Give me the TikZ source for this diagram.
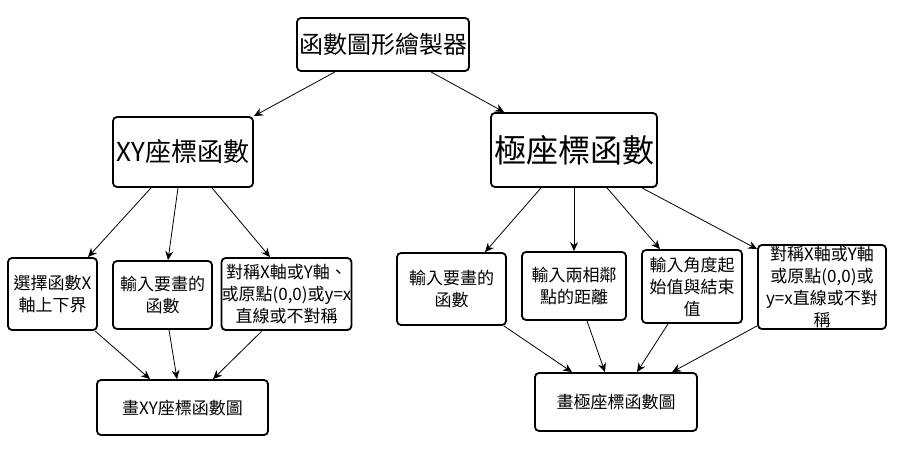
\documentclass[tikz,border=0pt]{standalone}
\usepackage{fontspec}
\setmainfont{Noto Sans CJK TC}
\usetikzlibrary{arrows.meta}
\tikzset{
  box/.style={draw=black, line width=1.8pt, rounded corners=4pt, fill=white,
    inner sep=0pt, align=center, anchor=center},
  conn/.style={draw=black, line width=0.8pt, -{Stealth[length=9pt,width=8pt]}},
  leaf/.style={box, font=\fontsize{17}{22}\selectfont},
}
\begin{document}
\begin{tikzpicture}[x=1pt,y=-1pt]
\useasboundingbox (0,0) rectangle (899,449);
\node[box, minimum width=172pt, minimum height=53pt, font=\fontsize{24}{28}\selectfont] (top) at (383,44.5) {函數圖形繪製器};
\node[box, minimum width=140pt, minimum height=70pt, font=\fontsize{26}{30}\selectfont] (xy) at (183,152) {XY座標函數};
\node[box, minimum width=166pt, minimum height=74pt, font=\fontsize{32}{36}\selectfont] (polar) at (574,150) {極座標函數};
\node[leaf, minimum width=89pt, minimum height=72pt] (b1) at (52.5,294) {選擇函數X\\軸上下界};
\node[leaf, minimum width=99pt, minimum height=68pt] (b2) at (162.5,295) {輸入要畫的\\函數};
\node[leaf, minimum width=125pt, minimum height=72pt] (b3) at (286.5,294) {對稱X軸或Y軸、\\或原點(0,0)或y=x\\直線或不對稱};
\node[leaf, minimum width=109pt, minimum height=72pt] (b4) at (451.5,289) {輸入要畫的\\函數};
\node[leaf, minimum width=104pt, minimum height=68pt] (b5) at (574,286) {輸入兩相鄰\\點的距離};
\node[leaf, minimum width=100pt, minimum height=73pt] (b6) at (692,286.5) {輸入角度起\\始值與結束\\值};
\node[leaf, minimum width=128pt, minimum height=84pt] (b7) at (822,287) {對稱X軸或Y軸\\或原點(0,0)或\\y=x直線或不對\\稱};
\node[leaf, minimum width=171pt, minimum height=55pt] (bl) at (182.5,407.5) {畫XY座標函數圖};
\node[leaf, minimum width=162pt, minimum height=58pt] (br) at (616,402) {畫極座標函數圖};

\draw[conn] ([xshift=-48pt]top.south) -- (xy.north east);
\draw[conn] ([xshift=48pt]top.south) -- ([xshift=14pt]polar.north west);

\draw[conn] ([xshift=-32pt]xy.south) -- ([xshift=35.5pt]b1.north);
\draw[conn] ([xshift=-5pt]xy.south) -- ([xshift=5.5pt]b2.north);
\draw[conn] ([xshift=29pt]xy.south) -- ([xshift=-16.5pt]b3.north);

\draw[conn] ([xshift=-33pt]polar.south) -- ([xshift=33.5pt]b4.north);
\draw[conn] (polar.south) -- (b5.north);
\draw[conn] ([xshift=33pt]polar.south) -- ([xshift=-32pt]b6.north);
\draw[conn] ([xshift=68pt]polar.south) -- ([yshift=-5pt]b7.north west);

\draw[conn] ([xshift=42.5pt]b1.south) -- ([xshift=-32.5pt]bl.north);
\draw[conn] ([xshift=6.5pt]b2.south) -- ([xshift=-5.5pt]bl.north);
\draw[conn] ([xshift=-24.5pt]b3.south) -- ([xshift=30.5pt]bl.north);

\draw[conn] ([xshift=-3pt]b4.south east) -- ([xshift=-44pt]br.north);
\draw[conn] ([xshift=13pt]b5.south) -- ([xshift=-11pt]br.north);
\draw[conn] ([xshift=-24pt]b6.south) -- ([xshift=21pt]br.north);
\draw[conn] ([yshift=4pt]b7.south west) -- ([xshift=56pt]br.north);
\end{tikzpicture}
\end{document}
